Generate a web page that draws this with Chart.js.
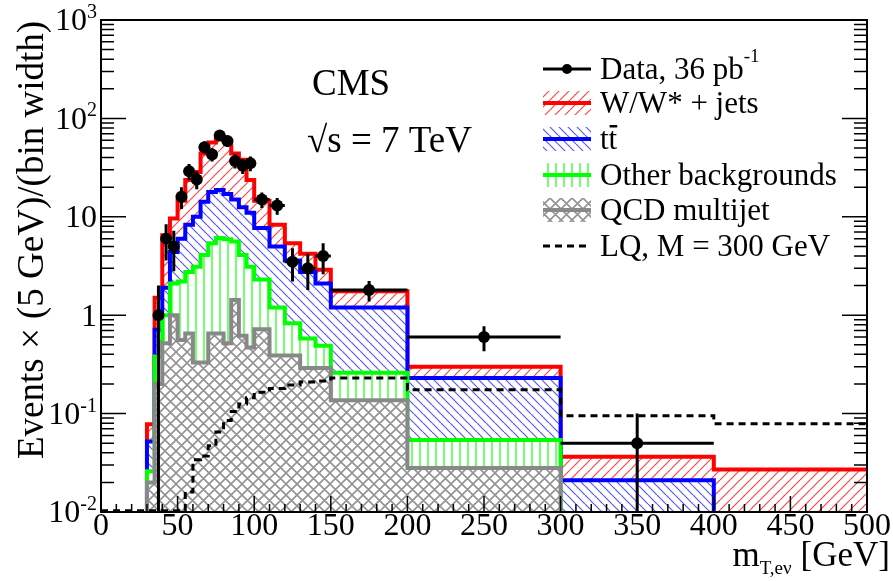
<!DOCTYPE html>
<html>
<head>
<meta charset="utf-8">
<script src="https://cdn.jsdelivr.net/npm/chart.js@4.4.0/dist/chart.umd.min.js"></script>
<style>
  html, body { margin: 0; padding: 0; background: #fff; }
  canvas { display: block; }
</style>
</head>
<body>
<canvas id="c" width="893" height="581"></canvas>
<script>
// bin edges (GeV) of the background stack, 5 GeV up to 100 then wider
const binEdges = [30,35,40,45,50,55,60,65,70,75,80,85,90,95,100,110,120,130,140,150,200,300,400,500];
// stacked heights, events x (5 GeV)/(bin width)
const wjetsStack = [0.078,1.5,6.5,9.6,14.6,23.6,28.5,44,57,66,60,44,38,23.6,14.6,8.3,5.4,4.2,2.9,1.75,0.30,0.0365,0.027];
const ttbarStack = [0.052,0.71,1.9,4.4,6.0,8.3,10,14.2,17.9,18.7,17,15,12.5,11,7.7,5.0,3.6,2.75,2.1,1.2,0.23,0.021,0];
const otherStack = [0.026,0.38,1.0,2.1,2.2,2.75,3.1,4.1,5.4,6.1,5.9,5.6,4.1,3.1,2.3,1.2,0.83,0.58,0.49,0.26,0.054,0,0];
const qcdStack   = [0.02,0.2,0.52,1.0,0.56,0.65,0.33,0.33,0.65,0.65,0.52,1.43,0.62,0.47,0.72,0.39,0.39,0.29,0.29,0.137,0.028,0,0];

// LQ signal, M = 300 GeV
const lqEdges  = [0,55,60,65,70,75,80,85,90,95,100,110,120,130,140,150,200,300,400,500];
const lqValues = [0,0.016,0.034,0.037,0.047,0.065,0.085,0.105,0.125,0.145,0.165,0.18,0.195,0.21,0.215,0.23,0.175,0.095,0.079];

// data points
const dataX   = [37.5,42.5,47.5,52.5,57.5,62.5,67.5,72.5,77.5,82.5,87.5,92.5,97.5,105,115,125,135,145,175,250,350];
const dataY   = [1,6,5,16,29,24,51,43,67,59,37,33,35,15,13,3.5,3,4,1.8,0.6,0.05];
const dataErr = [1,2.4,2.2,4,5.4,4.9,7.1,6.6,8.2,7.7,6.1,5.7,5.9,2.7,2.5,1.3,1.2,1.4,0.42,0.17,0.05];
const dataHalfWidth = [2.5,2.5,2.5,2.5,2.5,2.5,2.5,2.5,2.5,2.5,2.5,2.5,2.5,5,5,5,5,5,25,50,50];

// axis ticks
const xMajorTicks = [0,50,100,150,200,250,300,350,400,450,500];
const yDecades = [-2,-1,0,1,2,3];

const SERIF = '"Liberation Serif", "DejaVu Serif", serif';
const ctx = document.getElementById('c').getContext('2d');

function makeHatch(kind, color, size, lw) {
  const c = document.createElement('canvas');
  c.width = size; c.height = size;
  const g = c.getContext('2d');
  g.fillStyle = '#fff';
  g.fillRect(0, 0, size, size);
  g.strokeStyle = color;
  g.lineWidth = lw;
  g.beginPath();
  if (kind === '/' || kind === 'x') {
    for (const k of [0, size, 2 * size]) { g.moveTo(k, 0); g.lineTo(k - size, size); }
  }
  if (kind === '\\' || kind === 'x') {
    for (const k of [-size, 0, size]) { g.moveTo(k, 0); g.lineTo(k + size, size); }
  }
  if (kind === '|') { g.moveTo(size / 2, 0); g.lineTo(size / 2, size); }
  g.stroke();
  return ctx.createPattern(c, 'repeat');
}

const redHatch   = makeHatch('/', 'rgba(255,40,40,0.85)', 10, 1.2);
const blueHatch  = makeHatch('\\', 'rgba(60,60,255,0.85)', 9, 1.2);
const greenHatch = makeHatch('|', '#66ff66', 8, 1.8);
const grayHatch  = makeHatch('x', '#939393', 11, 1.6);

// step histogram as line points (value of point i holds until point i+1)
function hist(edges, vals, floor) {
  const pts = [{x: edges[0], y: floor}];
  vals.forEach((v, i) => pts.push({x: edges[i], y: Math.max(v, floor)}));
  pts.push({x: edges[edges.length - 1], y: Math.max(vals[vals.length - 1], floor)});
  return pts;
}

function histSet(label, vals, color, pattern) {
  return {
    label: label,
    data: hist(binEdges, vals, 1e-4),
    stepped: 'before',
    borderColor: color,
    borderWidth: 4,
    backgroundColor: pattern,
    fill: 'start',
    pointRadius: 0,
    clip: 0
  };
}

// error bars and all axis decorations
const decorations = {
  id: 'decorations',
  afterDatasetsDraw(chart) {
    const c = chart.ctx, xs = chart.scales.x, ys = chart.scales.y, a = chart.chartArea;
    c.save();
    c.beginPath();
    c.rect(a.left, a.top, a.right - a.left, a.bottom - a.top);
    c.clip();
    c.strokeStyle = '#000';
    c.lineWidth = 3;
    c.beginPath();
    dataX.forEach((x, i) => {
      const px = xs.getPixelForValue(x);
      const py = ys.getPixelForValue(dataY[i]);
      const lo = dataY[i] - dataErr[i];
      const pLo = lo > 0 ? ys.getPixelForValue(lo) : a.bottom + 5;
      const pHi = ys.getPixelForValue(dataY[i] + dataErr[i]);
      c.moveTo(px, pLo); c.lineTo(px, pHi);
      c.moveTo(xs.getPixelForValue(x - dataHalfWidth[i]), py);
      c.lineTo(xs.getPixelForValue(x + dataHalfWidth[i]), py);
    });
    c.stroke();
    c.restore();
  },
  afterDraw(chart) {
    const c = chart.ctx, xs = chart.scales.x, ys = chart.scales.y, a = chart.chartArea;
    c.save();
    // frame
    c.strokeStyle = '#000';
    c.lineWidth = 2;
    c.strokeRect(a.left, a.top, a.right - a.left, a.bottom - a.top);

    // x ticks
    c.lineWidth = 1.5;
    c.beginPath();
    for (let v = 0; v <= 500; v += 10) {
      const px = xs.getPixelForValue(v);
      const len = v % 50 === 0 ? 16 : 8;
      c.moveTo(px, a.bottom); c.lineTo(px, a.bottom - len);
    }
    // y ticks, left and right
    yDecades.forEach(d => {
      for (let m = 1; m <= 9; m++) {
        const v = m * Math.pow(10, d);
        if (v > 1000.0001) break;
        const py = ys.getPixelForValue(v);
        const len = m === 1 ? 25 : 13;
        c.moveTo(a.left, py); c.lineTo(a.left + len, py);
        c.moveTo(a.right, py); c.lineTo(a.right - len, py);
      }
    });
    c.stroke();

    // x tick labels
    c.fillStyle = '#000';
    c.font = '32px ' + SERIF;
    c.textAlign = 'center';
    c.textBaseline = 'middle';
    xMajorTicks.forEach(v => c.fillText(String(v), xs.getPixelForValue(v), a.bottom + 15));

    // y tick labels with exponents
    yDecades.forEach(d => {
      const py = ys.getPixelForValue(Math.pow(10, d));
      let base = '10', exp = '';
      if (d === 0) base = '1';
      else if (d !== 1) exp = String(d);
      c.font = '20px ' + SERIF;
      const ew = exp ? c.measureText(exp).width : 0;
      c.font = '32px ' + SERIF;
      c.textAlign = 'right';
      c.textBaseline = 'middle';
      const right = a.left - 4;
      c.fillText(base, right - ew, py + 2);
      if (exp) {
        c.font = '20px ' + SERIF;
        c.textAlign = 'left';
        c.textBaseline = 'alphabetic';
        c.fillText(exp, right - ew, py - 2);
      }
    });

    // y title
    c.save();
    c.translate(33, 240);
    c.rotate(-Math.PI / 2);
    c.font = '37px ' + SERIF;
    c.textAlign = 'center';
    c.textBaseline = 'middle';
    c.fillText('Events \u00d7 (5 GeV)/(bin width)', 0, 0);
    c.restore();

    // x title: m_{T,e\u03bd} [GeV]
    c.textBaseline = 'alphabetic';
    c.textAlign = 'left';
    c.font = '35px ' + SERIF;
    const wM = c.measureText('m').width;
    const wG = c.measureText('[GeV]').width;
    c.font = '19px ' + SERIF;
    const wS = c.measureText('T,e\u03bd').width;
    const gap = 9;
    let xt = 890 - wM - wS - gap - wG;
    c.font = '35px ' + SERIF;
    c.fillText('m', xt, 566);
    c.font = '19px ' + SERIF;
    c.fillText('T,e\u03bd', xt + wM, 574);
    c.font = '35px ' + SERIF;
    c.fillText('[GeV]', xt + wM + wS + gap, 566);

    // CMS label
    c.font = '37px ' + SERIF;
    c.fillText('CMS', 312, 95);
    c.font = '37px ' + SERIF;
    c.fillText('\u221as = 7 TeV', 307, 152);

    // legend
    const lx0 = 543, lx1 = 591, tx = 600;
    const rows = [69, 103, 139, 175, 210, 246];
    const boxes = [[redHatch, '#ff0000'], [blueHatch, '#0000ff'], [greenHatch, '#00ff00'], [grayHatch, '#888888']];
    // data symbol
    c.strokeStyle = '#000';
    c.lineWidth = 3;
    c.beginPath(); c.moveTo(lx0, rows[0]); c.lineTo(lx1, rows[0]); c.stroke();
    c.beginPath(); c.arc((lx0 + lx1) / 2, rows[0], 5, 0, 2 * Math.PI); c.fillStyle = '#000'; c.fill();
    boxes.forEach((b, i) => {
      const y = rows[i + 1];
      c.fillStyle = b[0];
      c.fillRect(lx0, y - 12, lx1 - lx0, 24);
      c.strokeStyle = b[1];
      c.lineWidth = 4;
      c.beginPath(); c.moveTo(lx0, y); c.lineTo(lx1, y); c.stroke();
    });
    c.strokeStyle = '#000';
    c.lineWidth = 3;
    c.setLineDash([7, 5]);
    c.beginPath(); c.moveTo(lx0, rows[5]); c.lineTo(lx1, rows[5]); c.stroke();
    c.setLineDash([]);

    c.fillStyle = '#000';
    c.textBaseline = 'middle';
    c.font = '31px ' + SERIF;
    c.fillText('Data, 36 pb', tx, rows[0] + 2);
    const wd = c.measureText('Data, 36 pb').width;
    c.font = '19px ' + SERIF;
    c.fillText('-1', tx + wd, rows[0] - 12);
    c.font = '31px ' + SERIF;
    c.fillText('W/W* + jets', tx, rows[1] + 2);
    c.fillText('tt', tx, rows[2] + 2);
    const wt = c.measureText('t').width;
    c.fillRect(tx + wt + 1, rows[2] - 14, wt - 1, 2.5);
    c.fillText('Other backgrounds', tx, rows[3] + 2);
    c.fillText('QCD multijet', tx, rows[4] + 2);
    c.fillText('LQ, M = 300 GeV', tx, rows[5] + 2);
    c.restore();
  }
};

new Chart(ctx, {
  type: 'line',
  data: {
    datasets: [
      {
        label: 'Data',
        data: dataX.map((x, i) => ({x: x, y: dataY[i]})),
        showLine: false,
        pointRadius: 6,
        pointBackgroundColor: '#000',
        pointBorderWidth: 0,
        clip: 0
      },
      {
        label: 'LQ, M = 300 GeV',
        data: hist(lqEdges, lqValues, 0.0103),
        stepped: 'before',
        borderColor: '#000',
        borderWidth: 3,
        borderDash: [7, 5],
        fill: false,
        pointRadius: 0,
        clip: 0
      },
      histSet('QCD multijet', qcdStack, '#888888', grayHatch),
      histSet('Other backgrounds', otherStack, '#00ff00', greenHatch),
      histSet('ttbar', ttbarStack, '#0000ff', blueHatch),
      histSet('W/W* + jets', wjetsStack, '#ff0000', redHatch)
    ]
  },
  options: {
    animation: false,
    responsive: false,
    devicePixelRatio: 1,
    layout: {padding: {left: 101, right: 26, top: 20, bottom: 69}},
    plugins: {legend: {display: false}, tooltip: {enabled: false}},
    scales: {
      x: {type: 'linear', min: 0, max: 500, display: false},
      y: {type: 'logarithmic', min: 0.01, max: 1000, display: false}
    }
  },
  plugins: [decorations]
});
</script>
</body>
</html>
